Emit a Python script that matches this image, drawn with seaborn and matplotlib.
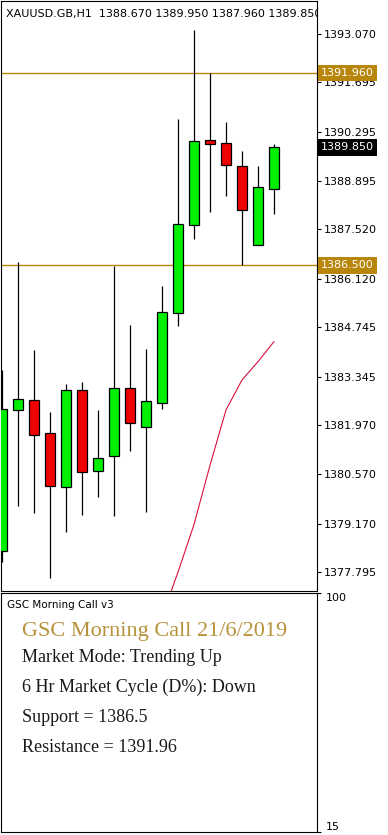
import numpy as np
import pandas as pd
import matplotlib
matplotlib.use("Agg")
import matplotlib.pyplot as plt
import matplotlib.transforms as mtransforms
import seaborn as sns

# style
sns.set_style("white")
plt.rcParams['font.family'] = ['DejaVu Sans']

# --- data (XAUUSD H1) ---
header = "XAUUSD.GB,H1  1388.670 1389.950 1387.960 1389.850"
opens = [1378.40, 1382.39, 1382.67, 1381.74, 1380.21, 1382.96, 1380.66, 1381.09, 1383.02,
         1381.91, 1382.59, 1385.14, 1387.64, 1390.05, 1389.97, 1389.31, 1387.07, 1388.67]
highs = [1383.53, 1386.61, 1384.10, 1382.34, 1383.14, 1383.19, 1382.40, 1386.48, 1384.81,
         1384.13, 1385.92, 1390.65, 1393.18, 1391.96, 1390.57, 1389.74, 1389.32, 1389.95]
lows = [1378.10, 1379.68, 1379.47, 1377.62, 1378.95, 1379.42, 1379.92, 1379.39, 1381.24,
        1379.51, 1382.44, 1384.78, 1387.26, 1388.02, 1388.48, 1386.50, 1387.07, 1387.96]
closes = [1382.42, 1382.70, 1381.68, 1380.23, 1382.96, 1380.63, 1381.03, 1383.02, 1382.02,
          1382.65, 1385.17, 1387.68, 1390.02, 1389.94, 1389.34, 1388.06, 1388.72, 1389.85]

# red average line (only the part that is on screen)
ma_index = [10, 11, 12, 13, 14, 15, 16, 17]
ma_values = [1376.53, 1377.80, 1379.15, 1380.83, 1382.40, 1383.25, 1383.77, 1384.34]

support = 1386.5
resistance = 1391.96
last_price = 1389.85

price_ticks = [1393.070, 1391.695, 1390.295, 1388.895, 1387.520, 1386.120,
               1384.745, 1383.345, 1381.970, 1380.570, 1379.170, 1377.795]

panel_name = "GSC Morning Call v3"
panel_title = "GSC Morning Call 21/6/2019"
panel_lines = ["Market Mode: Trending Up",
               "6 Hr Market Cycle (D%): Down",
               "Support = 1386.5",
               "Resistance = 1391.96"]
panel_scale = [15, 100]

GOLD = '#B8860B'
W, H = 388, 835

df = pd.DataFrame({'open': opens, 'high': highs, 'low': lows, 'close': closes})
df['i'] = np.arange(len(df))
df['up'] = df['close'] >= df['open']
df['bottom'] = df[['open', 'close']].min(axis=1)
df['body'] = (df['close'] - df['open']).abs()

fig = plt.figure(figsize=(W / 100, H / 100), dpi=100)
ax = fig.add_axes([1 / W, 244 / H, 316 / W, 590 / H])
ax2 = fig.add_axes([1 / W, 3 / H, 316 / W, 239 / H])

# candles
ax.vlines(df['i'], df['low'], df['high'], color='black', linewidth=0.9, zorder=2)
ax.bar(df['i'], df['body'], bottom=df['bottom'], width=0.62,
       color=np.where(df['up'], '#00EE00', '#F00000'),
       edgecolor='black', linewidth=0.9, zorder=3)

# average line
sns.lineplot(x=ma_index, y=ma_values, ax=ax, color='#D8103C', linewidth=0.8, zorder=4)

# support / resistance
ax.axhline(support, color=GOLD, linewidth=1.0, zorder=1)
ax.axhline(resistance, color=GOLD, linewidth=1.0, zorder=1)

ax.set_xlim(-0.0625, 19.6875)
ax.set_ylim(1377.264, 1394.002)
ax.set_xticks([])
ax.yaxis.tick_right()
ax.set_yticks(price_ticks)
ax.set_yticklabels([f"{t:.3f}" for t in price_ticks])
ax.tick_params(axis='y', length=3, width=0.8, pad=2, labelsize=8, colors='black')
for s in ax.spines.values():
    s.set_color('black')
    s.set_linewidth(0.8)

# price boxes on the right scale
trans = mtransforms.offset_copy(ax.get_yaxis_transform(), fig=fig, x=4, y=0, units='dots')
for p, fc in [(resistance, GOLD), (support, GOLD), (last_price, 'black')]:
    ax.text(1.0, p, f"{p:.3f}", transform=trans, ha='left', va='center', fontsize=8,
            color='white', clip_on=False, zorder=6,
            bbox=dict(boxstyle='square,pad=0.3', fc=fc, ec='none'))

# header line inside the chart
ax.text(5 / 316, 1 - 16 / 590, header, transform=ax.transAxes, fontsize=8,
        color='black', va='baseline', clip_on=True)

# lower panel
ax2.set_xlim(0, 1)
ax2.set_ylim(panel_scale[0], panel_scale[1])
ax2.set_xticks([])
ax2.yaxis.tick_right()
ax2.set_yticks(panel_scale)
ax2.set_yticklabels([str(v) for v in panel_scale])
ax2.tick_params(axis='y', length=3, width=0.8, pad=3, labelsize=8, colors='black')
ticks = ax2.yaxis.get_major_ticks()
ticks[0].label2.set_verticalalignment('bottom')
ticks[1].label2.set_verticalalignment('top')
for s in ax2.spines.values():
    s.set_color('black')
    s.set_linewidth(0.8)


def py(y_pix):
    # pixel row of the figure -> axes fraction of the lower panel
    return (832 - y_pix) / 239


ax2.text(6 / 316, py(608), panel_name, transform=ax2.transAxes, fontsize=7.5,
         color='black', va='baseline')
ax2.text(21 / 316, py(636), panel_title, transform=ax2.transAxes, fontsize=16,
         family='Liberation Serif', color='#B8923A', va='baseline')
for line, yb in zip(panel_lines, [662, 692, 722, 752]):
    ax2.text(21 / 316, py(yb), line, transform=ax2.transAxes, fontsize=13,
             family='Liberation Serif', color='#1a1a1a', va='baseline')

fig.savefig("out.png", dpi=100)
